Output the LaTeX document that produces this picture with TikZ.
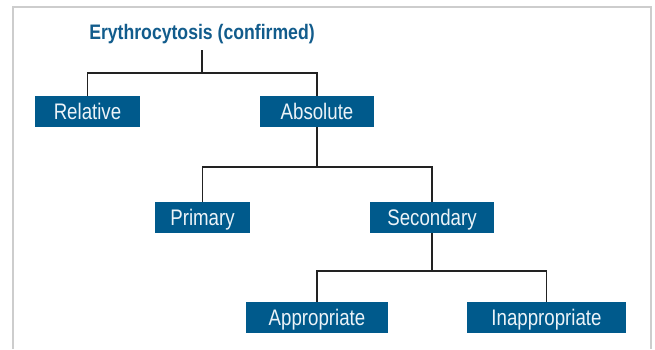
\documentclass[tikz,border=0pt]{standalone}
\usepackage{fontspec}
\setmainfont{Liberation Sans}
\newfontfamily\boxfont{Liberation Sans}[FakeStretch=0.83]
\newfontfamily\titlefont{Liberation Sans Bold}[FakeStretch=0.84]
\definecolor{boxblue}{RGB}{0,90,140}
\definecolor{titleblue}{RGB}{18,92,140}
\definecolor{boxtext}{RGB}{236,243,248}
\definecolor{framegray}{RGB}{205,205,205}
\definecolor{linedark}{RGB}{34,34,34}
\tikzset{
  catbox/.style={rectangle, fill=boxblue, text=boxtext, inner sep=0pt,
    minimum height=31pt, text height=16pt, text depth=0pt,
    font=\boxfont\fontsize{22.5pt}{22.5pt}\selectfont},
  conn/.style={draw=linedark, line width=1.9pt},
}
\begin{document}
\begin{tikzpicture}[x=1pt,y=-1pt]
\useasboundingbox (0,0) rectangle (655,349);
\draw[framegray, line width=1.5pt] (13,349) -- (13,7) -- (651,7) -- (651,349);
\node[text=titleblue, inner sep=0pt, text height=15pt, text depth=0pt,
  font=\titlefont\fontsize{21pt}{21pt}\selectfont] (title) at (202,32) {Erythrocytosis (confirmed)};
\node[catbox, minimum width=105pt] (rel) at (87.5,111.5) {Relative};
\node[catbox, minimum width=114pt] (abs) at (317,111.5) {Absolute};
\node[catbox, minimum width=95pt] (pri) at (202.5,217.5) {Primary};
\node[catbox, minimum width=124pt] (sec) at (432,217.5) {Secondary};
\node[catbox, minimum width=142pt] (app) at (317,317.5) {Appropriate};
\node[catbox, minimum width=159pt] (inapp) at (546.5,317.5) {Inappropriate};
\coordinate (t1) at (202,50);
\coordinate (j1) at (202,73);
\coordinate (j2) at (317,167);
\coordinate (j3) at (432,271);
\draw[conn] (t1) -- (j1);
\draw[conn] (rel.north) |- (j1) -| (abs.north);
\draw[conn] (abs.south) -- (j2);
\draw[conn] (pri.north) |- (j2) -| (sec.north);
\draw[conn] (sec.south) -- (j3);
\draw[conn] (app.north) |- (j3) -| (inapp.north);
\end{tikzpicture}
\end{document}
